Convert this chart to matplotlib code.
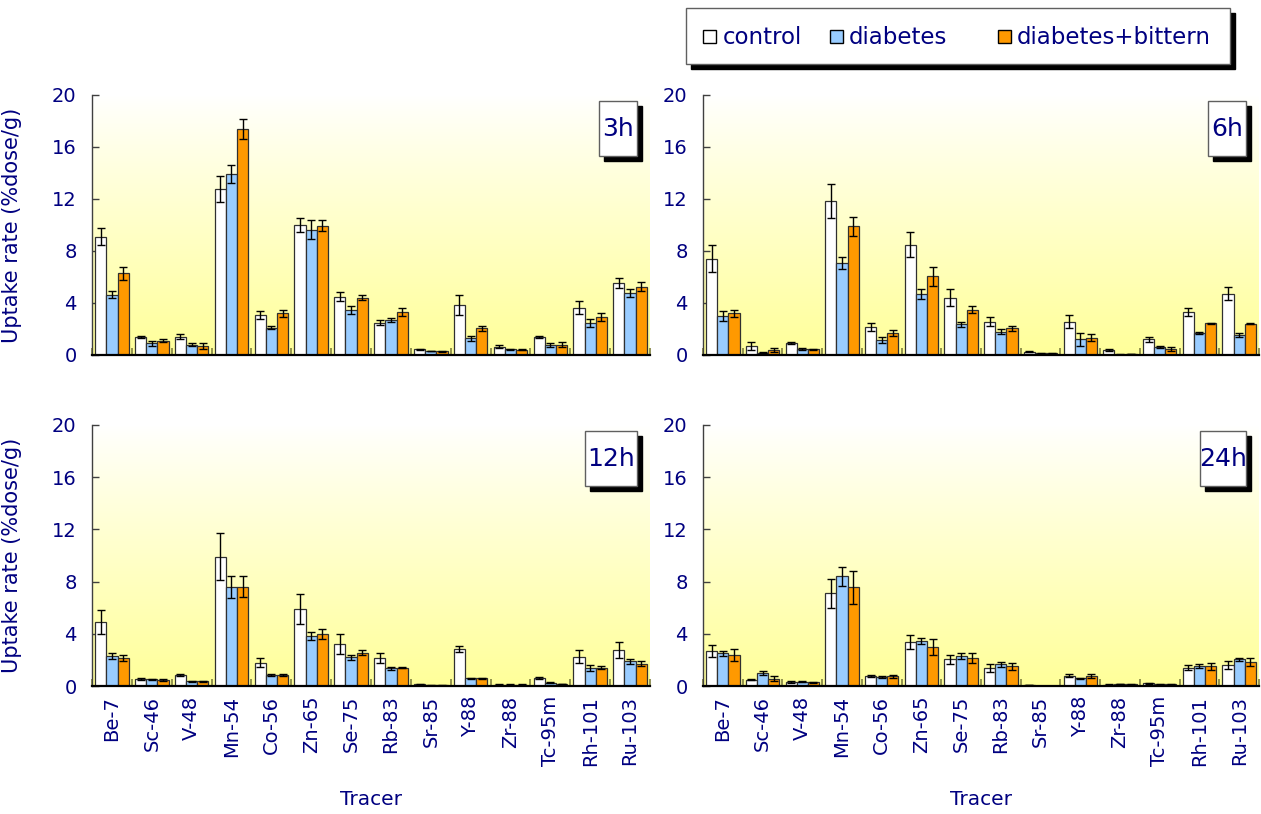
import numpy as np
import matplotlib
matplotlib.use("Agg")
import matplotlib.pyplot as plt
from matplotlib.patches import Rectangle
from matplotlib.colors import LinearSegmentedColormap

plt.rcParams['font.family'] = ['DejaVu Sans']

tracers = ["Be-7", "Sc-46", "V-48", "Mn-54", "Co-56", "Zn-65", "Se-75", "Rb-83",
           "Sr-85", "Y-88", "Zr-88", "Tc-95m", "Rh-101", "Ru-103"]
groups = ["control", "diabetes", "diabetes+bittern"]
panel_titles = ["3h", "6h", "12h", "24h"]

# 3h
ctrl_3h = [9.1, 1.4, 1.4, 12.8, 3.1, 10.0, 4.5, 2.5, 0.45, 3.85, 0.65, 1.4, 3.65, 5.55]
ctrl_3h_err = [0.65, 0.1, 0.2, 1.0, 0.3, 0.55, 0.35, 0.2, 0.05, 0.8, 0.1, 0.1, 0.5, 0.4]
diab_3h = [4.65, 0.9, 0.8, 13.9, 2.1, 9.65, 3.45, 2.7, 0.3, 1.3, 0.45, 0.8, 2.45, 4.8]
diab_3h_err = [0.3, 0.2, 0.1, 0.7, 0.1, 0.75, 0.3, 0.15, 0.03, 0.2, 0.05, 0.15, 0.3, 0.3]
bitt_3h = [6.3, 1.1, 0.7, 17.4, 3.2, 9.95, 4.4, 3.3, 0.27, 2.05, 0.4, 0.8, 2.9, 5.25]
bitt_3h_err = [0.5, 0.1, 0.2, 0.75, 0.3, 0.4, 0.2, 0.3, 0.02, 0.2, 0.05, 0.2, 0.3, 0.35]

# 6h
ctrl_6h = [7.4, 0.7, 0.9, 11.85, 2.15, 8.5, 4.4, 2.55, 0.25, 2.55, 0.38, 1.2, 3.3, 4.7]
ctrl_6h_err = [1.05, 0.3, 0.07, 1.3, 0.3, 0.95, 0.65, 0.35, 0.03, 0.5, 0.1, 0.2, 0.3, 0.5]
diab_6h = [3.0, 0.18, 0.46, 7.1, 1.15, 4.7, 2.35, 1.8, 0.13, 1.2, 0.03, 0.62, 1.7, 1.55]
diab_6h_err = [0.4, 0.05, 0.07, 0.45, 0.2, 0.4, 0.2, 0.2, 0.03, 0.5, 0.02, 0.1, 0.1, 0.15]
bitt_6h = [3.2, 0.38, 0.45, 9.9, 1.67, 6.05, 3.5, 2.05, 0.13, 1.33, 0.08, 0.46, 2.45, 2.42]
bitt_6h_err = [0.3, 0.15, 0.05, 0.75, 0.23, 0.75, 0.3, 0.2, 0.03, 0.28, 0.03, 0.15, 0.05, 0.05]

# 12h
ctrl_12h = [4.9, 0.56, 0.85, 9.9, 1.8, 5.9, 3.2, 2.15, 0.12, 2.85, 0.1, 0.6, 2.25, 2.75]
ctrl_12h_err = [0.95, 0.08, 0.1, 1.8, 0.38, 1.15, 0.75, 0.38, 0.03, 0.25, 0.02, 0.08, 0.5, 0.6]
diab_12h = [2.3, 0.5, 0.35, 7.6, 0.85, 3.85, 2.2, 1.35, 0.05, 0.6, 0.1, 0.25, 1.4, 1.9]
diab_12h_err = [0.25, 0.05, 0.05, 0.85, 0.05, 0.3, 0.2, 0.1, 0.02, 0.03, 0.02, 0.05, 0.22, 0.2]
bitt_12h = [2.15, 0.47, 0.35, 7.6, 0.85, 3.95, 2.55, 1.4, 0.05, 0.58, 0.1, 0.15, 1.4, 1.7]
bitt_12h_err = [0.25, 0.06, 0.05, 0.8, 0.05, 0.38, 0.2, 0.05, 0.02, 0.03, 0.02, 0.03, 0.1, 0.2]

# 24h
ctrl_24h = [2.7, 0.48, 0.3, 7.1, 0.75, 3.35, 2.05, 1.4, 0.07, 0.8, 0.1, 0.2, 1.4, 1.6]
ctrl_24h_err = [0.45, 0.05, 0.05, 1.1, 0.08, 0.55, 0.35, 0.3, 0.02, 0.1, 0.02, 0.05, 0.2, 0.3]
diab_24h = [2.5, 1.0, 0.33, 8.4, 0.7, 3.45, 2.3, 1.65, 0.0, 0.6, 0.15, 0.13, 1.5, 2.05]
diab_24h_err = [0.2, 0.15, 0.05, 0.75, 0.05, 0.25, 0.2, 0.2, 0.0, 0.05, 0.03, 0.03, 0.15, 0.1]
bitt_24h = [2.4, 0.55, 0.28, 7.55, 0.75, 3.0, 2.15, 1.5, 0.0, 0.8, 0.12, 0.13, 1.5, 1.85]
bitt_24h_err = [0.45, 0.2, 0.05, 1.3, 0.1, 0.6, 0.38, 0.3, 0.0, 0.15, 0.02, 0.03, 0.25, 0.3]

yticks = [0, 4, 8, 12, 16, 20]

panels = [
    (ctrl_3h, ctrl_3h_err, diab_3h, diab_3h_err, bitt_3h, bitt_3h_err),
    (ctrl_6h, ctrl_6h_err, diab_6h, diab_6h_err, bitt_6h, bitt_6h_err),
    (ctrl_12h, ctrl_12h_err, diab_12h, diab_12h_err, bitt_12h, bitt_12h_err),
    (ctrl_24h, ctrl_24h_err, diab_24h, diab_24h_err, bitt_24h, bitt_24h_err),
]

NAVY = "#000080"
colors = ["#FFFFFF", "#99CCFF", "#FF9900"]
W, H = 1261, 814
fig = plt.figure(figsize=(W / 100, H / 100), dpi=100)

def fx(px):
    return px / W

def fy(py):
    return 1 - py / H

axes_px = [(92, 95, 650, 355), (703, 95, 1259, 355),
           (92, 425, 650, 686), (703, 425, 1259, 686)]
box_w = [0.068, 0.068, 0.093, 0.083]

grad_cmap = LinearSegmentedColormap.from_list("bg", ["#FFFFFF", "#FFFF9A"], N=256)
yy = np.linspace(0, 1, 256).reshape(-1, 1)   # 0 at top row, 1 at bottom row
grad = yy ** 0.9

bw = 0.28
x = np.arange(len(tracers)) + 0.5
for i, (l, t, r, b) in enumerate(axes_px):
    ax = fig.add_axes([fx(l), fy(b), fx(r - l), (b - t) / H])
    ax.imshow(grad, extent=[0, 1, 0, 1], transform=ax.transAxes, aspect='auto',
              cmap=grad_cmap, vmin=0, vmax=1, zorder=0, interpolation='bilinear',
              origin='upper')
    data = panels[i]
    for k in range(3):
        vals = data[2 * k]
        errs = data[2 * k + 1]
        ax.bar(x + (k - 1) * bw, vals, bw, color=colors[k], edgecolor="#303030",
               linewidth=0.9, zorder=2,
               yerr=errs, error_kw=dict(ecolor="black", elinewidth=1.0, capsize=2.8,
                                        capthick=1.0, zorder=3))
    ax.set_xlim(0, len(tracers))
    ax.set_ylim(0, 20)
    ax.set_yticks(yticks)
    ax.tick_params(axis='y', direction='in', length=5, width=1, color="#404040",
                   labelsize=14, labelcolor=NAVY, pad=11)
    ax.set_xticks(x)
    ax.set_xticks(np.arange(0, len(tracers) + 1), minor=True)
    ax.tick_params(axis='x', which='major', length=0, pad=7)
    ax.tick_params(axis='x', which='minor', direction='in', length=5, width=1.2,
                   color="#808040")
    if i >= 2:
        ax.set_xticklabels(tracers, rotation=90, fontsize=14, color=NAVY)
        ax.set_xlabel("Tracer", fontsize=14.5, color=NAVY)
        ax.xaxis.set_label_coords(0.5, -0.40)
    else:
        ax.set_xticklabels([])
    if i % 2 == 0:
        ax.set_ylabel("Uptake rate (%dose/g)", fontsize=15, color=NAVY)
        ax.yaxis.set_label_coords(-0.125, 0.5)
    for s in ["top", "right"]:
        ax.spines[s].set_visible(False)
    ax.spines["left"].set_color("#404040")
    ax.spines["left"].set_linewidth(1.0)
    ax.spines["bottom"].set_color("black")
    ax.spines["bottom"].set_linewidth(1.6)
    ax.set_facecolor("white")

    # panel label box with shadow
    bwid = box_w[i]
    x1 = 0.976
    x0 = x1 - bwid
    y1 = 0.976
    y0 = 0.765
    dx = 5 / (r - l)
    dy = 5 / (b - t)
    ax.add_patch(Rectangle((x0 + dx, y0 - dy), bwid, y1 - y0, transform=ax.transAxes,
                           facecolor="black", edgecolor="black", zorder=5, clip_on=False))
    ax.add_patch(Rectangle((x0, y0), bwid, y1 - y0, transform=ax.transAxes,
                           facecolor="white", edgecolor="#606060", linewidth=1.0,
                           zorder=6, clip_on=False))
    ax.text((x0 + x1) / 2, (y0 + y1) / 2, panel_titles[i], transform=ax.transAxes,
            ha='center', va='center', fontsize=18, color=NAVY, zorder=7)

# Legend box
lx0, ly0, lx1, ly1 = 686, 8, 1230, 64
fig.patches.append(Rectangle((fx(lx0 + 5), fy(ly1 + 5)), fx(lx1 - lx0), (ly1 - ly0) / H,
                             transform=fig.transFigure, facecolor="black",
                             edgecolor="black", zorder=1))
fig.patches.append(Rectangle((fx(lx0), fy(ly1)), fx(lx1 - lx0), (ly1 - ly0) / H,
                             transform=fig.transFigure, facecolor="white",
                             edgecolor="#606060", linewidth=1.0, zorder=2))
sq_x = [703, 830, 998]
txt_x = [723, 849, 1017]
cy = 37
for k in range(3):
    fig.patches.append(Rectangle((fx(sq_x[k]), fy(cy + 6)), fx(13), 13 / H,
                                 transform=fig.transFigure, facecolor=colors[k],
                                 edgecolor="black", linewidth=1.0, zorder=3))
    fig.text(fx(txt_x[k]), fy(cy + 1), groups[k], ha='left', va='center',
             fontsize=16.5, fontweight='medium', color=NAVY, zorder=4)

fig.savefig("out.png", dpi=100)
